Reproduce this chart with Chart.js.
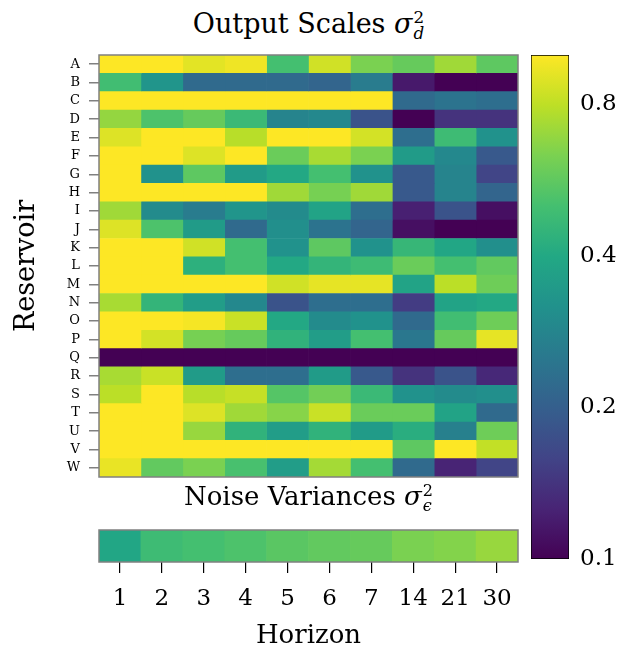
<!DOCTYPE html>
<html>
<head>
<meta charset="utf-8">
<script src="https://cdn.jsdelivr.net/npm/chart.js@4.4.0/dist/chart.umd.min.js"></script>
<style>
  body { margin: 0; background: #fff; }
  #wrap { position: relative; width: 620px; height: 652px; font-family: "DejaVu Serif", serif; }
  .box { position: absolute; }
  .title { position: absolute; left: 99px; width: 419px; text-align: center; font-size: 27px; line-height: 1; color: #000; z-index: 2; }
  .scr { display: inline-block; vertical-align: -0.38em; font-size: 0.62em; line-height: 0.95; margin-left: 1px; text-align: left; }
  .scr > * { display: block; }
</style>
</head>
<body>
<div id="wrap">
  <div class="title" style="top:10px">Output Scales <i>σ</i><span class="scr"><span>2</span><i>d</i></span></div>
  <div class="box" style="left:0; top:50px; width:525px; height:435px"><canvas id="heat-chart"></canvas></div>
  <div class="box" style="left:525px; top:50px; width:95px; height:530px"><canvas id="cbar-chart"></canvas></div>
  <div class="title" style="top:483px; font-size:26px">Noise Variances <i>σ</i><span class="scr"><span>2</span><i>ϵ</i></span></div>
  <div class="box" style="left:0; top:520px; width:525px; height:132px"><canvas id="noise-chart"></canvas></div>
</div>
<script>
// 数据
var reservoirs = ["A", "B", "C", "D", "E", "F", "G", "H", "I", "J", "K", "L",
  "M", "N", "O", "P", "Q", "R", "S", "T", "U", "V", "W"];
var horizons = ["1", "2", "3", "4", "5", "6", "7", "14", "21", "30"];

// output scale per reservoir (rows) and horizon (columns)
var outputScales = [
  [1.00, 1.00, 0.91, 0.95, 0.50, 0.85, 0.63, 0.58, 0.72, 0.56], // A
  [0.49, 0.33, 0.22, 0.22, 0.22, 0.21, 0.26, 0.117, 0.10, 0.10], // B
  [1.00, 1.00, 1.00, 1.00, 1.00, 1.00, 1.00, 0.22, 0.24, 0.23], // C
  [0.69, 0.52, 0.58, 0.47, 0.28, 0.29, 0.18, 0.10, 0.14, 0.14], // D
  [0.89, 1.00, 1.00, 0.78, 1.00, 1.00, 0.86, 0.23, 0.48, 0.32], // E
  [1.00, 1.00, 0.89, 1.00, 0.59, 0.74, 0.63, 0.35, 0.29, 0.19], // F
  [1.00, 0.32, 0.56, 0.35, 0.40, 0.50, 0.32, 0.19, 0.28, 0.16], // G
  [1.00, 1.00, 1.00, 1.00, 0.72, 0.62, 0.72, 0.19, 0.28, 0.21], // H
  [0.72, 0.30, 0.26, 0.33, 0.30, 0.38, 0.23, 0.123, 0.18, 0.11], // I
  [0.89, 0.52, 0.35, 0.22, 0.31, 0.24, 0.21, 0.11, 0.10, 0.10], // J
  [1.00, 1.00, 0.85, 0.50, 0.32, 0.56, 0.32, 0.46, 0.39, 0.31], // K
  [1.00, 1.00, 0.43, 0.50, 0.40, 0.45, 0.48, 0.59, 0.50, 0.57], // L
  [1.00, 1.00, 1.00, 1.00, 0.85, 0.92, 0.92, 0.38, 0.79, 0.60], // M
  [0.74, 0.45, 0.355, 0.29, 0.18, 0.23, 0.23, 0.15, 0.38, 0.40], // N
  [1.00, 1.00, 0.97, 0.83, 0.40, 0.30, 0.32, 0.22, 0.49, 0.60], // O
  [1.00, 0.86, 0.62, 0.58, 0.44, 0.355, 0.50, 0.25, 0.58, 0.92], // P
  [0.10, 0.10, 0.10, 0.10, 0.10, 0.10, 0.10, 0.10, 0.10, 0.10], // Q
  [0.74, 0.83, 0.35, 0.23, 0.23, 0.35, 0.19, 0.14, 0.18, 0.13], // R
  [0.79, 1.00, 0.78, 0.82, 0.54, 0.61, 0.47, 0.32, 0.30, 0.31], // S
  [1.00, 1.00, 0.89, 0.72, 0.66, 0.83, 0.59, 0.59, 0.38, 0.22], // T
  [1.00, 1.00, 0.70, 0.44, 0.355, 0.44, 0.35, 0.42, 0.27, 0.60], // U
  [1.00, 1.00, 1.00, 1.00, 1.00, 1.00, 1.00, 0.56, 1.00, 0.81], // V
  [0.93, 0.57, 0.63, 0.51, 0.355, 0.73, 0.50, 0.22, 0.126, 0.16] // W
];
var noiseVariances = [0.39, 0.48, 0.50, 0.52, 0.55, 0.57, 0.58, 0.63, 0.65, 0.70];
var colorbarTicks = [0.1, 0.2, 0.4, 0.8];
var colorMin = 0.1;
var colorMax = 1.0;

// viridis 色表
var VIRIDIS = ["#440154", "#482475", "#414487", "#355f8d", "#2a788e", "#21918c",
  "#22a884", "#44bf70", "#7ad151", "#bddf26", "#fde725"];

function hexRgb(h) {
  return [parseInt(h.slice(1, 3), 16), parseInt(h.slice(3, 5), 16), parseInt(h.slice(5, 7), 16)];
}

// log norm -> viridis
function viridis(v) {
  var t = Math.log(v / colorMin) / Math.log(colorMax / colorMin);
  t = Math.max(0, Math.min(1, t));
  var p = t * (VIRIDIS.length - 1);
  var i = Math.min(Math.floor(p), VIRIDIS.length - 2);
  var f = p - i;
  var a = hexRgb(VIRIDIS[i]), b = hexRgb(VIRIDIS[i + 1]);
  var c = a.map(function (x, k) { return Math.round(x + (b[k] - x) * f); });
  return "rgb(" + c.join(",") + ")";
}

// 去掉标签带来的上下留白
function noLabelPad(scale) {
  scale.paddingTop = 0;
  scale.paddingBottom = 0;
}

var SERIF = "'DejaVu Serif', serif";
Chart.defaults.font.family = SERIF;
Chart.defaults.color = "#000";
Chart.defaults.animation = false;
Chart.defaults.plugins.legend.display = false;
Chart.defaults.plugins.tooltip.enabled = false;

// 灰色边框
var framePlugin = {
  id: "frame",
  afterDatasetsDraw: function (chart) {
    var a = chart.chartArea, c = chart.ctx;
    c.save();
    c.strokeStyle = "#808080";
    c.lineWidth = 1.5;
    c.strokeRect(a.left, a.top, a.right - a.left, a.bottom - a.top);
    c.restore();
  },
};

// 主热力图
var heatDatasets = horizons.map(function (h, j) {
  return {
    label: h,
    data: reservoirs.map(function () { return [j, j + 1]; }),
    backgroundColor: outputScales.map(function (row) { return viridis(row[j]); }),
    barPercentage: 1,
    categoryPercentage: 1,
    grouped: false,
    borderWidth: 0,
  };
});

new Chart(document.getElementById("heat-chart"), {
  type: "bar",
  data: { labels: reservoirs, datasets: heatDatasets },
  options: {
    indexAxis: "y",
    responsive: true,
    maintainAspectRatio: false,
    layout: { padding: { left: 0, top: 5, right: 7, bottom: 8 } },
    scales: {
      x: { type: "linear", min: 0, max: horizons.length, display: false },
      y: {
        grid: { offset: false, drawOnChartArea: false, color: "#808080", tickLength: 10, lineWidth: 1.5 },
        border: { display: false },
        ticks: { font: { size: 13 }, padding: 9, color: "#000", autoSkip: false },
        title: { display: true, text: "Reservoir", font: { size: 27 }, padding: { top: 11, bottom: 0 } },
        afterFit: function (scale) { scale.width = 99; noLabelPad(scale); },
      },
    },
  },
  plugins: [framePlugin],
});

// 色标
new Chart(document.getElementById("cbar-chart"), {
  type: "bar",
  data: {
    labels: [""],
    datasets: [{
      data: [[colorMin, colorMax]],
      backgroundColor: function (ctx) {
        var area = ctx.chart.chartArea;
        if (!area) return null;
        var g = ctx.chart.ctx.createLinearGradient(0, area.bottom, 0, area.top);
        VIRIDIS.forEach(function (c, i) { g.addColorStop(i / (VIRIDIS.length - 1), c); });
        return g;
      },
      borderColor: "#000",
      borderWidth: 1,
      borderSkipped: false,
      barPercentage: 1,
      categoryPercentage: 1,
    }],
  },
  options: {
    responsive: true,
    maintainAspectRatio: false,
    layout: { padding: { left: 6, top: 5, right: 0, bottom: 21 } },
    scales: {
      x: { display: false },
      y: {
        type: "logarithmic",
        position: "right",
        min: colorMin,
        max: colorMax,
        z: 1,
        afterBuildTicks: function (scale) {
          scale.ticks = colorbarTicks.map(function (v) { return { value: v }; });
        },
        grid: {
          drawTicks: false,
          color: function (ctx) { return ctx.tick && ctx.tick.value === colorMin ? "rgba(0,0,0,0)" : "#808080"; },
          lineWidth: 1,
        },
        border: { display: false, dash: [13, 12] },
        ticks: {
          font: { size: 23 },
          padding: 11,
          color: "#000",
          callback: function (v) { return String(v); },
        },
        afterFit: function (scale) { scale.width = 51; noLabelPad(scale); },
      },
    },
  },
});

// 噪声方差条
new Chart(document.getElementById("noise-chart"), {
  type: "bar",
  data: {
    labels: horizons,
    datasets: [{
      data: noiseVariances.map(function () { return 1; }),
      backgroundColor: noiseVariances.map(viridis),
      barPercentage: 1,
      categoryPercentage: 1,
      borderWidth: 0,
    }],
  },
  options: {
    responsive: true,
    maintainAspectRatio: false,
    layout: { padding: { left: 99, top: 10, right: 7, bottom: 0 } },
    scales: {
      y: { min: 0, max: 1, display: false },
      x: {
        grid: { offset: false, drawOnChartArea: false, color: "#000", tickLength: 11, lineWidth: 1.2 },
        border: { display: false },
        ticks: { font: { size: 23 }, padding: 12, color: "#000", maxRotation: 0, autoSkip: false },
        title: { display: true, text: "Horizon", font: { size: 26 }, padding: { top: 0, bottom: 0 } },
        afterFit: function (scale) { scale.height = 90; },
      },
    },
  },
  plugins: [framePlugin],
});
</script>
</body>
</html>
